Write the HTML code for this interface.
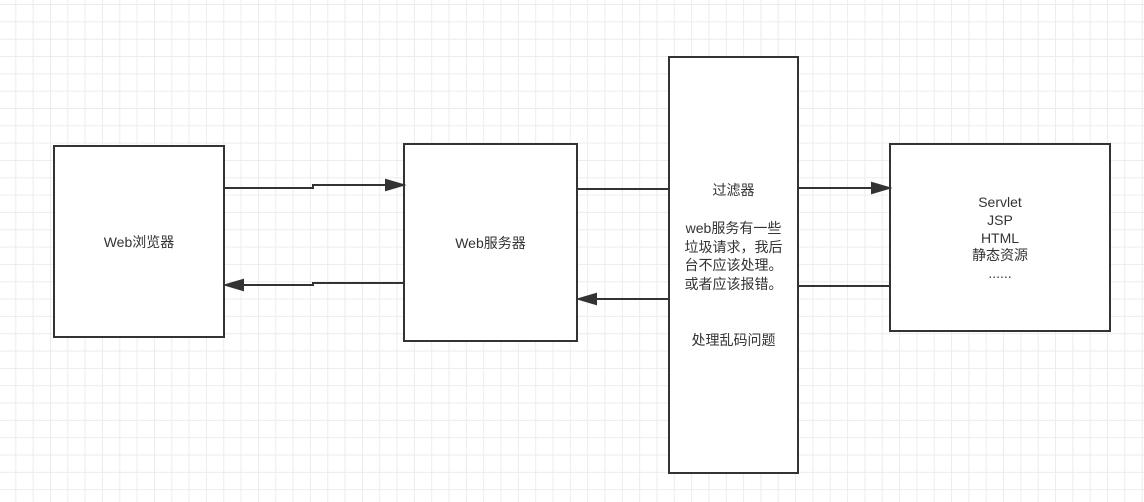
<!DOCTYPE html>
<html><head><meta charset="utf-8"><style>
body{margin:0;width:1144px;height:502px;overflow:hidden;background:#fff;
background-image:linear-gradient(#ececec 1px,transparent 1px),linear-gradient(90deg,#ececec 1px,transparent 1px);
background-size:17.33px 17.33px;background-position:-2px 4px;
font-family:"Liberation Sans","Noto Sans CJK SC",sans-serif;color:#333}
.b{position:absolute;background:#fff;border:2px solid #333;box-sizing:border-box;display:flex;align-items:center;justify-content:center;text-align:center;font-size:14px;line-height:18px}
.t{position:absolute;font-size:14px;line-height:18.5px;text-align:center;color:#333}
svg{position:absolute;left:0;top:0}
</style></head><body>
<div class="b" style="left:53px;top:145px;width:172px;height:193px">Web浏览器</div>
<div class="b" style="left:403px;top:143px;width:175px;height:199px">Web服务器</div>
<div class="b" style="left:668px;top:56px;width:131px;height:418px"></div>
<div class="t" style="left:668px;top:181px;width:131px">过滤器</div>
<div class="t" style="left:668px;top:219px;width:131px">web服务有一些<br>垃圾请求，我后<br>台不应该处理。<br>或者应该报错。</div>
<div class="t" style="left:668px;top:331px;width:131px">处理乱码问题</div>
<div class="b" style="left:889px;top:143px;width:222px;height:189px;align-items:flex-start;padding-top:49px"><div style="line-height:17.8px">Servlet<br>JSP<br>HTML<br>静态资源<br>......</div></div>
<svg width="1144" height="502" fill="none" stroke="#333" stroke-width="2">
<polyline points="225,188 313,188 313,185 388,185"/><polygon points="403,185 386,180 386,190" fill="#333"/>
<polyline points="403,283 313,283 313,285 240,285"/><polygon points="226,285 243,280 243,290" fill="#333"/>
<line x1="578" y1="189" x2="668" y2="189"/>
<line x1="668" y1="299" x2="594" y2="299"/><polygon points="579,299 596,294 596,304" fill="#333"/>
<line x1="799" y1="188" x2="874" y2="188"/><polygon points="889,188 872,183 872,193" fill="#333"/>
<line x1="889" y1="286" x2="799" y2="286"/>
</svg>
</body></html>
